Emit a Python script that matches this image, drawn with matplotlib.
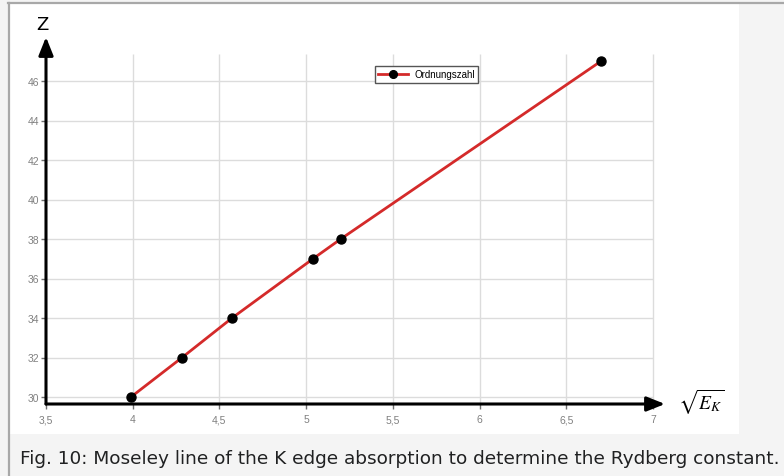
import matplotlib
matplotlib.use("Agg")
import matplotlib.pyplot as plt
from matplotlib.patches import Rectangle
from matplotlib.lines import Line2D

# sqrt(E_K) of the K edge vs. atomic number
sqrt_ek = [3.99, 4.285, 4.573, 5.04, 5.20, 6.70]
z_number = [30, 32, 34, 37, 38, 47]

x_ticks = [3.5, 4, 4.5, 5, 5.5, 6, 6.5, 7]
x_labels = ["3,5", "4", "4,5", "5", "5,5", "6", "6,5", "7"]
y_ticks = [30, 32, 34, 36, 38, 40, 42, 44, 46]
y_labels = [str(v) for v in y_ticks]

caption = "Fig. 10: Moseley line of the K edge absorption to determine the Rydberg constant."

W, H = 784, 477

def px(x, y):
    return x / W, 1 - y / H

plt.rcParams['mathtext.fontset'] = 'stix'

fig = plt.figure(figsize=(W / 100, H / 100), dpi=100, facecolor='#f4f4f4')

# white image area and frame
x0, y0 = px(10, 435)
fig.patches.append(Rectangle((x0, y0), 729 / W, 430 / H, transform=fig.transFigure,
                             facecolor='white', edgecolor='none', zorder=-5))
fig.add_artist(Line2D([8 / W, 1], [1 - 4 / H, 1 - 4 / H], color='#a8a8a8', lw=1.6,
                      transform=fig.transFigure))
fig.add_artist(Line2D([9 / W, 9 / W], [0, 1 - 4 / H], color='#a8a8a8', lw=1.6,
                      transform=fig.transFigure))

left, bottom = px(46, 405)
right, top = px(665, 38)
ax = fig.add_axes([left, bottom, right - left, top - bottom])
ax.set_facecolor('none')
ax.set_xlim(3.5, 3.5 + (665 - 46) / 173.4)
ax.set_ylim(30 - 7 / 19.75, 30 + 360 / 19.75)

for s in ax.spines.values():
    s.set_visible(False)

# grid
ax.hlines(y_ticks, 3.5, 7, color='#dcdcdc', lw=1, zorder=1)
ax.vlines(x_ticks[1:], ax.get_ylim()[0], 47.37, color='#dcdcdc', lw=1, zorder=1)

# axes with arrows
arrow = dict(arrowstyle='-|>,head_length=0.55,head_width=0.22', lw=2.2, color='black',
             shrinkA=0, shrinkB=0, mutation_scale=20)
ax.annotate('', xy=(1, 0), xytext=(0, 0), xycoords='axes fraction', arrowprops=arrow, zorder=4)
ax.annotate('', xy=(0, 1), xytext=(0, 0), xycoords='axes fraction', arrowprops=arrow, zorder=4)

ax.set_xticks(x_ticks)
ax.set_xticklabels(x_labels, family='Liberation Sans')
ax.set_yticks(y_ticks)
ax.set_yticklabels(y_labels, family='Liberation Sans')
ax.tick_params(length=3.5, width=1, color='#707070', labelsize=7.5, labelcolor='#808080')
ax.tick_params(axis='x', pad=4)
ax.tick_params(axis='y', pad=1.5)

ax.plot(sqrt_ek, z_number, '-', color='#d42a2a', lw=2, marker='o', markersize=6.5,
        markerfacecolor='black', markeredgecolor='black', label='Ordnungszahl', zorder=3)

ax.legend(loc='upper left', bbox_to_anchor=px(375, 67), bbox_transform=fig.transFigure,
          prop=dict(family='Liberation Sans', size=7), frameon=True, fancybox=False,
          edgecolor='#555555', framealpha=1, borderpad=0.35, borderaxespad=0,
          handlelength=3.0, handletextpad=0.7, markerscale=0.85)

fig.text(*px(42, 25), 'Z', fontsize=13, ha='center', va='center')
fig.text(*px(701, 402), r'$\sqrt{E_K}$', fontsize=14, ha='center', va='center')
fig.text(*px(20, 459), caption, fontsize=13.3, ha='left', va='center', color='#202122')

fig.savefig('out.png', dpi=100, facecolor=fig.get_facecolor())
